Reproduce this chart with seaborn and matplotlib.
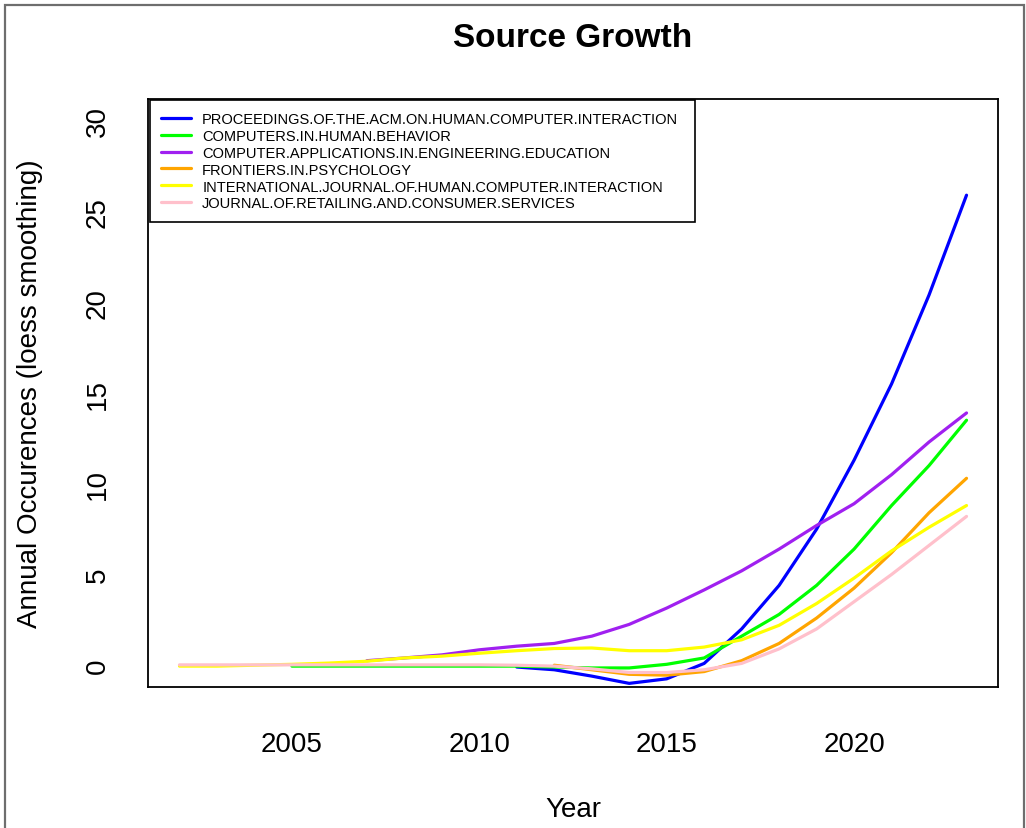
import matplotlib
matplotlib.use("Agg")
import matplotlib.pyplot as plt
from matplotlib.patches import Rectangle
import seaborn as sns
import pandas as pd

# Journal names (legend order = drawing order)
sources = [
    "PROCEEDINGS.OF.THE.ACM.ON.HUMAN.COMPUTER.INTERACTION",
    "COMPUTERS.IN.HUMAN.BEHAVIOR",
    "COMPUTER.APPLICATIONS.IN.ENGINEERING.EDUCATION",
    "FRONTIERS.IN.PSYCHOLOGY",
    "INTERNATIONAL.JOURNAL.OF.HUMAN.COMPUTER.INTERACTION",
    "JOURNAL.OF.RETAILING.AND.CONSUMER.SERVICES",
]
colors = ["#0000FF", "#00FF00", "#A020F0", "#FFA500", "#FFFF00", "#FFC0CB"]

# Loess-smoothed annual occurrences per source
acm_years = [2011, 2012, 2013, 2014, 2015, 2016, 2017, 2018, 2019, 2020, 2021, 2022, 2023]
acm_vals = [-0.1, -0.25, -0.6, -1.0, -0.75, 0.1, 2.0, 4.4, 7.5, 11.3, 15.5, 20.4, 25.9]

chb_years = [2005, 2006, 2007, 2008, 2009, 2010, 2011, 2012, 2013, 2014, 2015, 2016,
             2017, 2018, 2019, 2020, 2021, 2022, 2023]
chb_vals = [-0.05, -0.05, -0.05, -0.05, -0.05, -0.05, -0.05, -0.1, -0.15, -0.15, 0.05, 0.4,
            1.6, 2.8, 4.4, 6.4, 8.8, 11.0, 13.5]

caee_years = [2007, 2008, 2009, 2010, 2011, 2012, 2013, 2014, 2015, 2016, 2017, 2018,
              2019, 2020, 2021, 2022, 2023]
caee_vals = [0.25, 0.4, 0.57, 0.85, 1.05, 1.2, 1.6, 2.25, 3.15, 4.15, 5.2, 6.4,
             7.7, 8.9, 10.5, 12.3, 13.9]

fp_years = [2012, 2013, 2014, 2015, 2016, 2017, 2018, 2019, 2020, 2021, 2022, 2023]
fp_vals = [0.0, -0.25, -0.5, -0.55, -0.35, 0.25, 1.2, 2.6, 4.25, 6.2, 8.4, 10.3]

ijhci_years = [2002, 2003, 2004, 2005, 2006, 2007, 2008, 2009, 2010, 2011, 2012, 2013,
               2014, 2015, 2016, 2017, 2018, 2019, 2020, 2021, 2022, 2023]
ijhci_vals = [-0.05, -0.05, 0.0, 0.05, 0.12, 0.22, 0.4, 0.5, 0.66, 0.8, 0.92, 0.95,
              0.8, 0.8, 1.0, 1.4, 2.2, 3.4, 4.8, 6.3, 7.6, 8.8]

jrcs_years = [2002, 2003, 2004, 2005, 2006, 2007, 2008, 2009, 2010, 2011, 2012, 2013,
              2014, 2015, 2016, 2017, 2018, 2019, 2020, 2021, 2022, 2023]
jrcs_vals = [0.02, 0.02, 0.02, 0.02, 0.02, 0.02, 0.02, 0.02, 0.02, 0.0, -0.05, -0.2,
             -0.4, -0.4, -0.25, 0.1, 0.9, 2.0, 3.5, 5.0, 6.6, 8.2]

x_ticks = [2005, 2010, 2015, 2020]
y_ticks = [0, 5, 10, 15, 20, 25, 30]

series_years = [acm_years, chb_years, caee_years, fp_years, ijhci_years, jrcs_years]
series_vals = [acm_vals, chb_vals, caee_vals, fp_vals, ijhci_vals, jrcs_vals]

frames = []
for name, yrs, vals in zip(sources, series_years, series_vals):
    frames.append(pd.DataFrame({"Year": yrs, "Value": vals, "Source": name}))
df = pd.concat(frames, ignore_index=True)

sns.set_style("white")
plt.rcParams["font.family"] = ["Liberation Sans", "DejaVu Sans"]
plt.rcParams["text.color"] = "black"
plt.rcParams["axes.labelcolor"] = "black"
plt.rcParams["axes.titlecolor"] = "black"

fig = plt.figure(figsize=(10.26, 8.29), dpi=100)
ax = fig.add_axes([148 / 1026, 1 - 688 / 829, 850 / 1026, 588 / 829])

sns.lineplot(data=df, x="Year", y="Value", hue="Source", hue_order=sources,
             palette=dict(zip(sources, colors)), estimator=None, sort=False,
             linewidth=2.3, ax=ax)

ax.set_xlim(2001.16, 2023.84)
ax.set_ylim(-1.2, 31.2)
ax.set_xticks(x_ticks)
ax.set_xticklabels([str(t) for t in x_ticks])
ax.set_yticks(y_ticks)
ax.set_yticklabels([str(t) for t in y_ticks], rotation=90, va="center")

for s in ax.spines.values():
    s.set_color("black")
    s.set_linewidth(1.3)

ax.tick_params(axis="both", which="major", direction="out", length=12,
               width=1.2, color="black", labelsize=20, labelcolor="black")
ax.tick_params(axis="x", pad=20)
ax.tick_params(axis="y", pad=15)

ax.set_xlabel("Year", fontsize=20, labelpad=28)
ax.set_ylabel("Annual Occurences (loess smoothing)", fontsize=20, labelpad=30)
ax.set_title("Source Growth", fontsize=24, fontweight="bold", pad=38)

old = ax.get_legend()
handles = old.legend_handles
labels = [t.get_text() for t in old.get_texts()]
old.remove()
for h in handles:
    h.set_linewidth(2.3)
leg = ax.legend(handles, labels, loc="upper left",
                bbox_to_anchor=(0.002, 0.0, 0.642, 0.998), mode="expand",
                borderaxespad=0.0, fontsize=10.5, frameon=True, fancybox=False,
                framealpha=1, edgecolor="black", labelspacing=0.2,
                handlelength=2.0, handletextpad=0.8, borderpad=0.8)
leg.get_frame().set_linewidth(1.2)

# Outer border of the figure
fig.patches.append(Rectangle((5 / 1026, -0.02), 1019 / 1026, 1.02 - 6 / 829,
                             transform=fig.transFigure, fill=False,
                             edgecolor="#6e6e6e", linewidth=1.6))

fig.savefig("out.png", dpi=100)
